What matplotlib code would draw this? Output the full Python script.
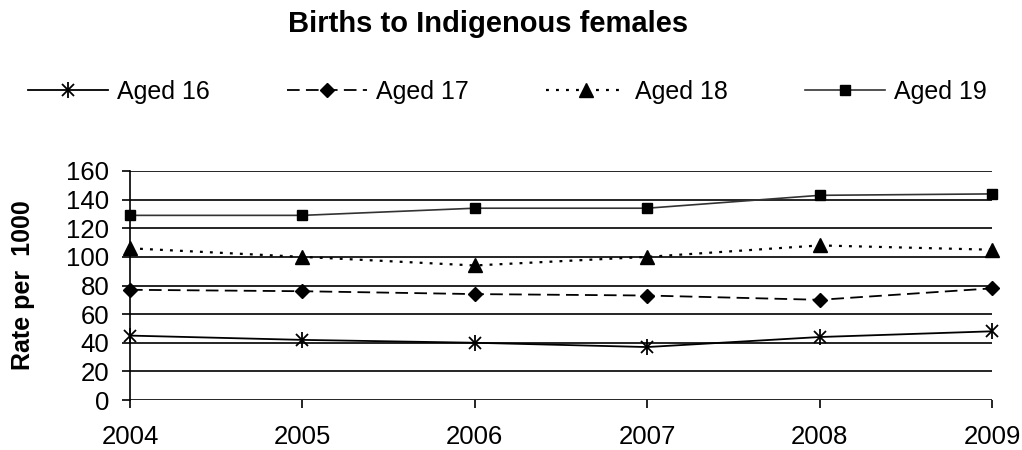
import matplotlib.pyplot as plt

plt.rcParams['font.family'] = ['Liberation Sans', 'DejaVu Sans']

years = ['2004', '2005', '2006', '2007', '2008', '2009']
aged16 = [45, 42, 40, 37, 44, 48]
aged17 = [77, 76, 74, 73, 70, 78]
aged18 = [106, 100, 94, 100, 108, 105]
aged19 = [129, 129, 134, 134, 143, 144]

fig = plt.figure(figsize=(10.22, 4.5), dpi=100)
ax = fig.add_axes([0.1272, 0.1111, 0.8434, 0.5089])

x = range(len(years))
l16a, = ax.plot(x, aged16, color='black', lw=1.3, marker='x', ms=9, mew=1.3, clip_on=False)
l16b, = ax.plot(x, aged16, color='black', lw=0, marker='|', ms=11, mew=1.3, clip_on=False)
l17, = ax.plot(x, aged17, color='black', lw=1.3, ls=(0, (7, 3.5)), marker='D', ms=7,
               clip_on=False)
l18, = ax.plot(x, aged18, color='black', lw=1.6, ls=(0, (1.3, 3.2)), marker='^', ms=10,
               clip_on=False)
l19, = ax.plot(x, aged19, color='#333333', lw=1.2, marker='s', ms=7.5, mfc='black',
               mec='black', clip_on=False)

ax.set_xlim(0, len(years) - 1)
ax.set_ylim(0, 160)
ax.set_yticks(range(0, 161, 20))
ax.set_xticks(list(x))
ax.set_xticklabels(years)
ax.yaxis.grid(True, color='black', lw=1.2)
ax.set_axisbelow(True)
for s in ['top', 'right', 'bottom']:
    ax.spines[s].set_visible(False)
ax.spines['left'].set_linewidth(1.2)
ax.tick_params(axis='y', length=6, width=1.2, labelsize=18.5, pad=9)
ax.tick_params(axis='x', length=6, width=1.2, labelsize=18.5, pad=12)

fig.text(23 / 1022, 1 - 285.5 / 450, 'Rate per  1000', rotation=90, ha='center',
         va='center', fontsize=18, fontweight='bold')
fig.text(0.478, 1 - 24 / 450, 'Births to Indigenous females', ha='center', va='center',
         fontsize=21, fontweight='bold')

fig.legend([(l16a, l16b), l17, l18, l19], ['Aged 16', 'Aged 17', 'Aged 18', 'Aged 19'],
           loc='center left', bbox_to_anchor=(28 / 1022, 1 - 91.7 / 450), ncol=4,
           frameon=False, fontsize=18, handlelength=3.2, columnspacing=3.1,
           handletextpad=0.35, borderpad=0, borderaxespad=0)

fig.savefig('out.png', dpi=100)
